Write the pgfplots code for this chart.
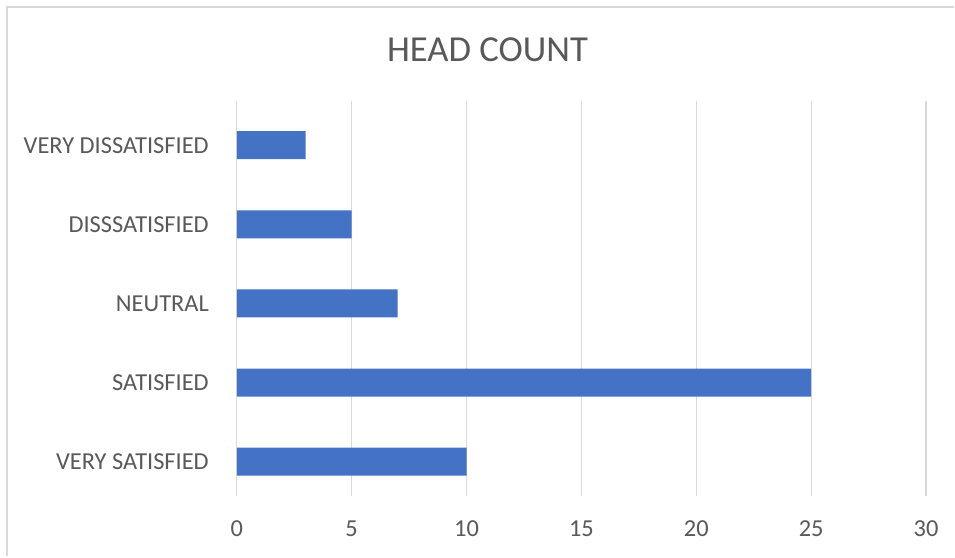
\documentclass[border=0pt]{standalone}
\usepackage{fontspec}
\setmainfont{Carlito}
\usepackage{pgfplots}
\pgfplotsset{compat=1.18}
\definecolor{barblue}{HTML}{4472C4}
\definecolor{gridgray}{HTML}{D9D9D9}
\definecolor{txtgray}{HTML}{595959}
\begin{document}
\begin{tikzpicture}[x=0.75pt,y=0.75pt]
\path[fill=white] (0,0) rectangle (955,557);
\draw[gridgray, line width=1.5pt] (7,0) -- (7,550) -- (955,550);
\node[txtgray, font=\fontsize{27.5}{33}\selectfont] at (488,507) {HEAD COUNT};
\begin{axis}[
  at={(237*0.75pt,60*0.75pt)}, anchor=south west,
  scale only axis,
  width=517.5pt, height=297pt,
  xbar, bar width=21pt,
  xmin=0, xmax=30,
  ymin=-0.44, ymax=4.56,
  xtick={0,5,10,15,20,25,30},
  ytick={0,1,2,3,4},
  yticklabels={VERY SATISFIED,SATISFIED,NEUTRAL,DISSSATISFIED,VERY DISSATISFIED},
  xmajorgrids, grid style={gridgray, line width=0.9pt},
  axis line style={draw=none},
  major tick length=0pt,
  tick label style={txtgray, font=\fontsize{18.3}{21}\selectfont},
  y tick label style={xshift=-17.5pt},
  x tick label style={yshift=-15pt},
  /pgf/number format/assume math mode=true,
]
\addplot[fill=barblue, draw=none] coordinates {(10,0) (25,1) (7,2) (5,3) (3,4)};
\end{axis}
\end{tikzpicture}
\end{document}
